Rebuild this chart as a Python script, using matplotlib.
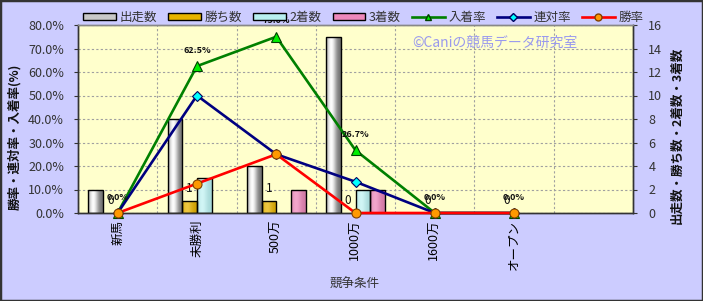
import numpy as np
import matplotlib
matplotlib.use("Agg")
import matplotlib.pyplot as plt
from matplotlib.patches import Rectangle
from matplotlib.lines import Line2D
import matplotlib.colors as mcolors

plt.rcParams['font.family'] = ['Noto Sans CJK JP', 'DejaVu Sans']

# ---- data ----
categories = ['新馬', '未勝利', '500万', '1000万', '1600万', 'オープン', '']
starts = [2, 8, 4, 15, 0, 0]
wins = [0, 1, 1, 0, 0, 0]
seconds = [0, 3, 0, 2, 0, 0]
thirds = [0, 0, 2, 2, 0, 0]
place_rate = [0.0, 62.5, 75.0, 26.7, 0.0, 0.0]
rentai_rate = [0.0, 50.0, 25.0, 13.3, 0.0, 0.0]
win_rate = [0.0, 12.5, 25.0, 0.0, 0.0, 0.0]

bar_names = ['出走数', '勝ち数', '2着数', '3着数']
line_names = ['入着率', '連対率', '勝率']

BG = '#CCCCFF'
PLOT_BG = '#FFFFCC'

fig = plt.figure(figsize=(7.03, 3.01), dpi=100, facecolor=BG)
W, H = 703, 301
L, R, T, B = 78, 633, 25, 213
axb = fig.add_axes([L / W, 1 - B / H, (R - L) / W, (B - T) / H])
ax = axb.twinx()
axb.yaxis.tick_right()
axb.yaxis.set_label_position('right')
ax.yaxis.tick_left()
ax.yaxis.set_label_position('left')

axb.set_zorder(1)
ax.set_zorder(2)
ax.patch.set_visible(False)
axb.set_facecolor(PLOT_BG)

n = len(categories)
x = np.arange(n)
axb.set_xlim(-0.5, n - 0.5)
axb.set_ylim(0, 16)
ax.set_ylim(0, 80)

# grid
axb.set_axisbelow(True)
axb.set_yticks(np.arange(0, 17, 2))
axb.set_xticks(np.arange(-0.5, n, 1.0), minor=True)
axb.grid(True, axis='y', which='major', color='#A0A0A0', linestyle=(0, (2, 2)), linewidth=0.8)
axb.grid(True, axis='x', which='minor', color='#A0A0A0', linestyle=(0, (2, 2)), linewidth=0.8)
axb.tick_params(axis='x', which='minor', length=0)

def cyl_gradient(color, light=0.75, dark=0.45):
    base = np.array(mcolors.to_rgb(color))
    t = np.linspace(0, 1, 64)
    prof = np.exp(-((t - 0.35) / 0.35) ** 2)
    hi = base + (1 - base) * light
    lo = base * (1 - dark)
    cols = [np.clip(lo + (hi - lo) * p, 0, 1) for p in prof]
    return np.array(cols)[None, :, :]

bar_colors = ['#C8C8C8', '#E8B400', '#B8F0F0', '#EE88BB']
grad_params = [(0.95, 0.45), (0.25, 0.12), (0.35, 0.1), (0.25, 0.12)]
series = [starts, wins, seconds, thirds]
bw = 0.185
offs = [-1.5, -0.5, 0.5, 1.5]
for si, (vals, col, (lt, dk)) in enumerate(zip(series, bar_colors, grad_params)):
    grad = cyl_gradient(col, lt, dk)
    for i, v in enumerate(vals):
        if v <= 0:
            continue
        xc = x[i] + offs[si] * bw
        rect = Rectangle((xc - bw / 2, 0), bw, v, facecolor='none',
                         edgecolor='black', linewidth=1.0, zorder=3)
        axb.add_patch(rect)
        im = axb.imshow(grad, extent=(xc - bw / 2, xc + bw / 2, 0, v),
                        aspect='auto', zorder=2.5, interpolation='bilinear')
        im.set_clip_path(rect)
axb.set_xlim(-0.5, n - 0.5)
axb.set_ylim(0, 16)

# win count labels
for i, v in enumerate(wins):
    xc = x[i] + offs[1] * bw
    axb.annotate(str(v), (xc, v), xytext=(0, 9), textcoords='offset points',
                 ha='center', va='center', fontsize=8.5, color='#111111', zorder=6)

# lines
xl = x[:len(place_rate)]
ax.plot(xl, place_rate, color='#008000', linewidth=1.9, marker='^', markersize=7,
        markerfacecolor='#00EE00', markeredgecolor='#004000', markeredgewidth=0.8,
        zorder=5, clip_on=False)
ax.plot(xl, rentai_rate, color='#000080', linewidth=1.9, marker='D', markersize=5,
        markerfacecolor='#00FFFF', markeredgecolor='#000060', markeredgewidth=0.8,
        zorder=5, clip_on=False)
ax.plot(xl, win_rate, color='#FF0000', linewidth=1.9, marker='o', markersize=6.5,
        markerfacecolor='#FF9900', markeredgecolor='#804000', markeredgewidth=0.8,
        zorder=6, clip_on=False)

for i, v in enumerate(place_rate):
    ax.annotate(f'{v:.1f}%', (xl[i], v), xytext=(0, 11.5), textcoords='offset points',
                ha='center', va='center', fontsize=6.5, fontweight='bold',
                color='#111111', zorder=7, annotation_clip=False)

# ticks
ax.set_yticks(np.arange(0, 81, 10))
ax.set_yticklabels([f'{v:.1f}%' for v in np.arange(0, 81, 10)])
ax.tick_params(axis='y', labelsize=9, labelcolor='#333333', length=3, color='#333333', pad=7)
axb.tick_params(axis='y', labelsize=9, labelcolor='#333333', length=3, color='#333333', pad=8)
axb.set_xticks(x)
axb.set_xticklabels(categories, rotation=90, fontsize=9, va='top', ha='center')
axb.tick_params(axis='x', which='major', length=0, pad=5)

for a in (ax, axb):
    for s in a.spines.values():
        s.set_color('#333333')
        s.set_linewidth(1.0)
    a.spines['top'].set_color('#888888')

# axis labels
fig.text(15 / W, 1 - 137 / H, '勝率・連対率・入着率(%)', rotation=90, ha='center', va='center',
         fontsize=9, fontweight='bold', color='#111111')
fig.text(677 / W, 1 - 135 / H, '出走数・勝ち数・2着数・3着数', rotation=90, ha='center', va='center',
         fontsize=9, fontweight='bold', color='#111111')
fig.text(355 / W, 1 - 284 / H, '競争条件', ha='center', va='center', fontsize=9, color='#333333')

# watermark
ax.text(0.751, 0.905, '©Caniの競馬データ研究室', transform=ax.transAxes, ha='center', va='center',
        fontsize=10, color='#9999EE', zorder=1)

# legend
handles = []
for col in bar_colors:
    handles.append(Rectangle((0, 0), 1, 1, facecolor=col, edgecolor='black', linewidth=1.0))
handles.append(Line2D([], [], color='#008000', linewidth=1.9, marker='^', markersize=5,
                      markerfacecolor='#00EE00', markeredgecolor='#004000'))
handles.append(Line2D([], [], color='#000080', linewidth=1.9, marker='D', markersize=4,
                      markerfacecolor='#00FFFF', markeredgecolor='#000060'))
handles.append(Line2D([], [], color='#FF0000', linewidth=1.9, marker='o', markersize=5,
                      markerfacecolor='#FF9900', markeredgecolor='#804000'))
leg = fig.legend(handles, bar_names + line_names, loc='center left',
                 bbox_to_anchor=(83 / W, 1 - 17 / H), ncol=7, frameon=False,
                 fontsize=9, handlelength=2.6, handleheight=0.5, handletextpad=0.3,
                 columnspacing=0.9, borderaxespad=0, borderpad=0)
for t in leg.get_texts():
    t.set_color('#333333')

# outer frame
fig.patches.append(Rectangle((0, 0), 1, 1, transform=fig.transFigure, fill=False,
                             edgecolor='#333333', linewidth=2.5))

fig.savefig('out.png', dpi=100, facecolor=BG)
